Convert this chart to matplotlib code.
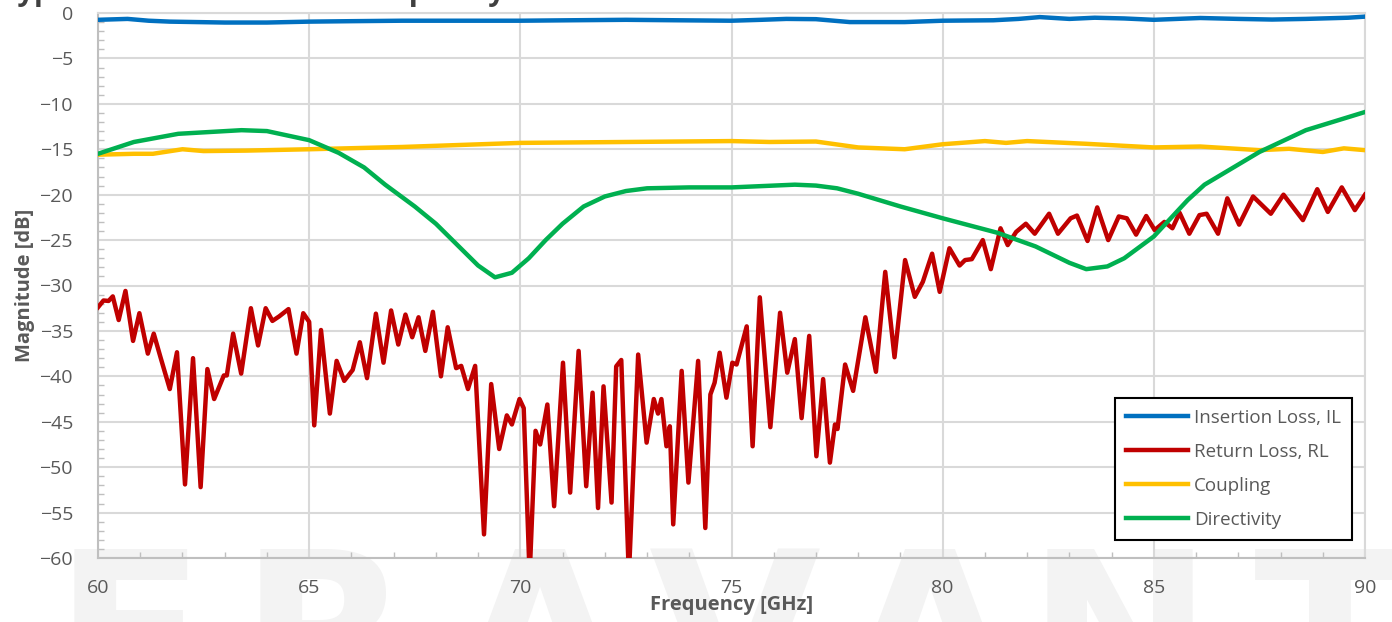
import matplotlib
matplotlib.use("Agg")
import matplotlib.pyplot as plt
from matplotlib.ticker import MultipleLocator
import numpy as np

# insertion loss
il_f = [60.0, 60.7, 61.2, 61.7, 63.0, 64.0, 65.0, 66.0, 67.2, 68.5, 70.0, 71.2, 72.5, 73.7, 75.0,
        75.7, 76.3, 77.0, 77.8, 79.1, 80.0, 81.2, 81.8, 82.3, 83.0, 83.6, 84.3, 85.0, 86.1,
        87.0, 87.8, 88.6, 89.6, 90.0]
il_db = [-0.75, -0.65, -0.85, -0.95, -1.05, -1.05, -0.95, -0.9, -0.85, -0.85, -0.85, -0.8, -0.75, -0.8, -0.85,
         -0.75, -0.65, -0.68, -1.0, -1.0, -0.85, -0.8, -0.65, -0.45, -0.65, -0.52, -0.6, -0.75, -0.55,
         -0.65, -0.72, -0.65, -0.52, -0.4]

# return loss
rl_f = [60.0, 60.13, 60.25, 60.35, 60.49, 60.65, 60.83, 60.98, 61.18, 61.32, 61.48, 61.70, 61.87,
        62.06, 62.25, 62.43, 62.59, 62.75, 62.98, 63.05, 63.2, 63.39, 63.62, 63.79, 63.97, 64.13,
        64.29, 64.51, 64.70, 64.86, 65.0, 65.12, 65.28, 65.49, 65.65, 65.83, 66.03, 66.2, 66.37,
        66.58, 66.76, 66.94, 67.11, 67.28, 67.44, 67.59, 67.75, 67.93, 68.12, 68.28, 68.48, 68.6,
        68.76, 68.93, 69.14, 69.31, 69.5, 69.68, 69.8, 69.98, 70.08, 70.22, 70.36, 70.47, 70.64,
        70.8, 71.01, 71.18, 71.38, 71.56, 71.71, 71.84, 71.97, 72.16, 72.27, 72.39, 72.57, 72.79,
        72.99, 73.16, 73.26, 73.34, 73.46, 73.54, 73.62, 73.82, 73.98, 74.21, 74.38, 74.5, 74.6,
        74.72, 74.88, 75.02, 75.12, 75.36, 75.5, 75.67, 75.92, 76.15, 76.32, 76.5, 76.66, 76.84,
        77.01, 77.17, 77.33, 77.45, 77.51, 77.69, 77.88, 78.17, 78.42, 78.64, 78.86, 79.11, 79.34,
        79.53, 79.75, 79.93, 80.16, 80.4, 80.53, 80.69, 80.95, 81.14, 81.37, 81.54, 81.74, 81.97,
        82.18, 82.52, 82.73, 83.03, 83.18, 83.43, 83.66, 83.92, 84.17, 84.36, 84.58, 84.82, 85.02,
        85.25, 85.44, 85.61, 85.84, 86.08, 86.25, 86.52, 86.74, 87.02, 87.35, 87.77, 88.07, 88.53,
        88.87, 89.12, 89.45, 89.76, 90.0]
rl_db = [-32.4, -31.65, -31.7, -31.2, -33.8, -30.6, -36.1, -33.05, -37.5, -35.3, -37.9, -41.4, -37.35,
         -51.9, -38.0, -52.2, -39.2, -42.5, -39.9, -39.9, -35.3, -39.7, -32.5, -36.6, -32.5, -33.9,
         -33.4, -32.6, -37.5, -33.05, -34.0, -45.4, -34.9, -44.1, -38.3, -40.5, -39.3, -36.25, -40.2,
         -33.1, -38.5, -32.75, -36.5, -33.2, -35.7, -33.5, -37.2, -32.9, -40.0, -34.6, -39.1, -38.85,
         -41.4, -38.85, -57.4, -40.85, -48.0, -44.3, -45.3, -42.5, -43.5, -62.0, -46.0, -47.5, -43.1,
         -54.3, -38.5, -52.8, -37.2, -52.1, -41.8, -54.5, -41.1, -53.9, -38.9, -38.2, -62.0, -37.6,
         -47.3, -42.5, -44.1, -42.5, -47.7, -45.5, -56.3, -39.4, -51.7, -38.3, -56.7, -42.0, -40.7,
         -37.4, -42.35, -38.5, -38.7, -34.5, -47.7, -31.3, -45.6, -33.0, -39.6, -35.9, -44.6, -35.55,
         -48.8, -40.3, -49.5, -45.3, -45.8, -38.7, -41.6, -33.5, -39.5, -28.5, -37.9, -27.2, -31.25,
         -29.6, -26.5, -30.7, -25.9, -27.8, -27.2, -27.1, -25.0, -28.2, -23.7, -25.55, -24.1, -23.2,
         -24.3, -22.1, -24.3, -22.6, -22.3, -25.1, -21.4, -25.0, -22.4, -22.6, -24.4, -22.35, -23.9,
         -23.0, -23.7, -22.0, -24.3, -22.25, -22.1, -24.3, -20.4, -23.3, -20.2, -22.1, -20.0, -22.8,
         -19.4, -21.9, -19.2, -21.7, -20.0]

# coupling
cp_f = [60.0, 60.85, 61.3, 62.0, 62.5, 63.5, 65.0, 67.2, 70.0, 72.5, 75.0, 75.9, 77.0, 78.0,
        79.1, 80.0, 81.0, 81.5, 82.0, 83.4, 85.0, 86.1, 87.5, 88.2, 89.0, 89.5, 90.0]
cp_db = [-15.6, -15.5, -15.5, -15.0, -15.2, -15.15, -15.0, -14.75, -14.3, -14.2, -14.1, -14.2, -14.15, -14.8,
         -15.0, -14.45, -14.1, -14.3, -14.1, -14.4, -14.8, -14.7, -15.1, -14.95, -15.3, -14.9, -15.1]

# directivity
dr_f = [60.0, 60.85, 61.9, 63.4, 64.0, 65.0, 65.7, 66.3, 66.8, 67.5, 68.0, 68.5, 69.0, 69.4,
        69.8, 70.2, 70.6, 71.0, 71.5, 72.0, 72.5, 73.0, 74.0, 75.0, 76.0, 76.5, 77.0, 77.5,
        78.0, 78.5, 79.0, 80.0, 81.3, 82.2, 83.0, 83.4, 83.9, 84.3, 85.0, 85.8, 86.2, 87.5,
        88.6, 90.0]
dr_db = [-15.5, -14.2, -13.3, -12.9, -13.0, -14.0, -15.4, -17.0, -18.9, -21.3, -23.2, -25.5, -27.8, -29.1,
         -28.6, -27.0, -25.0, -23.2, -21.3, -20.2, -19.6, -19.3, -19.2, -19.2, -19.0, -18.9, -19.0, -19.3,
         -19.9, -20.6, -21.3, -22.6, -24.2, -25.7, -27.5, -28.2, -27.9, -27.0, -24.6, -20.6, -18.9, -15.3,
         -12.9, -10.9]

series_names = ["Insertion Loss, IL", "Return Loss, RL", "Coupling", "Directivity"]
series_colors = ["#0070c0", "#c00000", "#ffc000", "#00b050"]

plt.rcParams['font.family'] = ['Open Sans', 'DejaVu Sans']

fig = plt.figure(figsize=(13.92, 6.22), dpi=100)

# faint logo watermark behind everything
for ch, xp in zip("ERAVANT", [130, 325, 540, 735, 930, 1120, 1330]):
    fig.text(xp / 1392, (622 - 710) / 622, ch, fontsize=160, fontweight='bold',
             color='#f3f3f3', ha='center', va='baseline', zorder=-10,
             family='DejaVu Sans')

# title sits mostly above the canvas, only descenders show
fig.text(505 / 1392, 1.0, "Typical Performance vs. Frequency", fontsize=21,
         fontweight='bold', color='#404040', ha='right', va='baseline')

ax = fig.add_axes([98 / 1392, 1 - 558 / 622, 1267 / 1392, 545 / 622])
ax.set_facecolor('none')

ax.plot(il_f, il_db, color=series_colors[0], lw=3.2, label=series_names[0], zorder=3)
ax.plot(rl_f, rl_db, color=series_colors[1], lw=3.2, label=series_names[1], zorder=3,
        solid_joinstyle='round')
ax.plot(cp_f, cp_db, color=series_colors[2], lw=3.2, label=series_names[2], zorder=3)
ax.plot(dr_f, dr_db, color=series_colors[3], lw=3.2, label=series_names[3], zorder=3)

ax.set_xlim(60, 90)
ax.set_ylim(-60, 0)
ax.xaxis.set_major_locator(MultipleLocator(5))
ax.yaxis.set_major_locator(MultipleLocator(5))
ax.xaxis.set_minor_locator(MultipleLocator(1))
ax.yaxis.set_minor_locator(MultipleLocator(1))
ax.grid(True, which='major', color='#d9d9d9', lw=1.5, zorder=1)
ax.set_axisbelow(True)

ax.tick_params(which='major', length=0, labelsize=14, labelcolor='#595959')
ax.tick_params(axis='y', which='major', pad=18)
ax.tick_params(axis='x', which='major', pad=15)
ax.tick_params(which='minor', direction='in', length=4, width=1, color='#bfbfbf')

for s in ax.spines.values():
    s.set_color('#d9d9d9')
    s.set_linewidth(1.5)
ax.spines['left'].set_color('#bfbfbf')
ax.spines['bottom'].set_color('#bfbfbf')

ax.set_xlabel("Frequency [GHz]", fontsize=14.5, fontweight='bold', color='#595959', labelpad=-1)
ax.set_ylabel("Magnitude [dB]", fontsize=14.5, fontweight='bold', color='#595959', labelpad=3)

leg = ax.legend(loc='lower right', bbox_to_anchor=(0.9897, 0.033), borderaxespad=0,
                fontsize=13.5, handlelength=3.3, handletextpad=0.3, labelspacing=0.85,
                borderpad=0.6, fancybox=False, framealpha=1, edgecolor='black')
leg.get_frame().set_linewidth(1.5)
for t in leg.get_texts():
    t.set_color('#595959')

fig.savefig("out.png", dpi=100)
